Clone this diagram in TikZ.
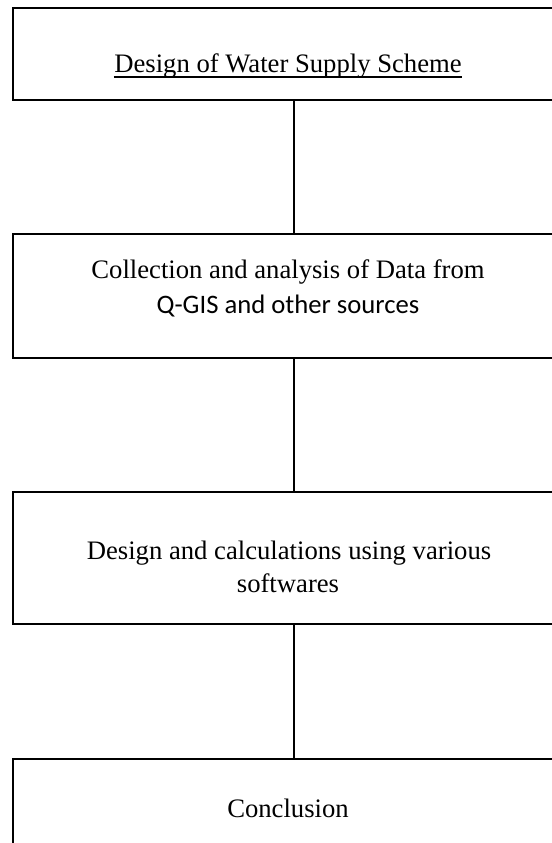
\documentclass[tikz,border=0pt]{standalone}
\usepackage{fontspec}
\setmainfont{Liberation Serif}
\newfontfamily\calibri{Carlito}
\usetikzlibrary{positioning}

\begin{document}
\begin{tikzpicture}[x=0.45pt, y=-0.45pt,
  stage/.style={draw, line width=0.7pt, anchor=north west, minimum width=248.4pt, minimum height=#1, inner sep=0pt},
  txt/.style={anchor=base, inner sep=0pt, font=\fontsize{12}{14}\selectfont},
  link/.style={line width=0.7pt}
]
\useasboundingbox (0,0) rectangle (552,843);
\clip (0,0) rectangle (552,843);

% ── Stages ──
\node[stage=41.4pt] (design) at (12,7) {};
\node[stage=55.8pt] (collect) at (12,233) {};
\node[stage=59.4pt] (calc) at (12,491) {};
\node[stage=70pt] (concl) at (12,758) {};

% ── Texts ──
\node[txt] (designtxt) at (288,72) {Design of Water Supply Scheme};
\node[txt] (collecttxt) at (288,278) {Collection and analysis of Data from};
\node[txt] (qgistxt) at (288,313) {\calibri Q-GIS and other sources};
\node[txt] (calctxt) at (289,559) {Design and calculations using various};
\node[txt] (softtxt) at (288,592) {softwares};
\node[txt] (concltxt) at (288,817) {Conclusion};

% underline of the title
\draw[line width=0.9pt] ([yshift=-2.2pt]designtxt.base west) -- ([yshift=-2.2pt]designtxt.base east);

% ═══ LINKS ═══
\draw[link] ([xshift=2.25pt]design.south) -- ([xshift=2.25pt]collect.north);
\draw[link] ([xshift=2.25pt]collect.south) -- ([xshift=2.25pt]calc.north);
\draw[link] ([xshift=2.25pt]calc.south) -- ([xshift=2.25pt]concl.north);

\end{tikzpicture}
\end{document}
